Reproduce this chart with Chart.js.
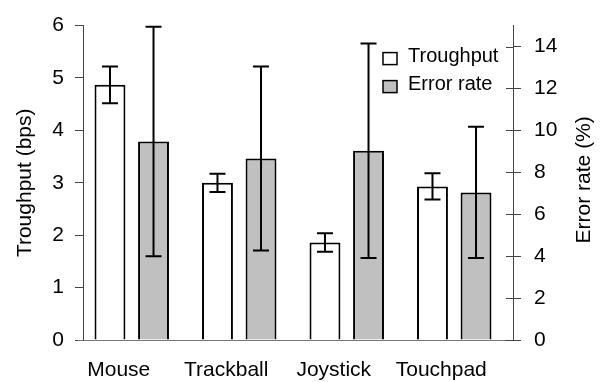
<!DOCTYPE html>
<html>
<head>
<meta charset="utf-8">
<script src="https://cdn.jsdelivr.net/npm/chart.js@4.4.1/dist/chart.umd.min.js"></script>
<style>
    html, body { margin: 0; padding: 0; background: #fff; }
    #wrap { width: 603px; height: 382px; }
</style>
</head>
<body>
<div id="wrap"><canvas id="chart" width="603" height="382"></canvas></div>
<script>
// Data
const categories = ['Mouse', 'Trackball', 'Joystick', 'Touchpad'];
const throughput = [4.87, 3.0, 1.86, 2.93];
const throughputErr = [0.35, 0.175, 0.175, 0.25];
const errorRate = [9.47, 8.66, 9.03, 7.04];
const errorRateErr = [5.47, 4.39, 5.12, 3.13];
const leftMax = 6;
const rightMax = 15;

const FONT = "'Liberation Sans', Arial, Helvetica, sans-serif";
const AXIS_COLOR = '#444';

// error bars drawn on top of the bars
const errorBars = {
    id: 'errorBars',
    afterDatasetsDraw(chart) {
        const ctx = chart.ctx;
        ctx.save();
        ctx.strokeStyle = '#000';
        ctx.lineWidth = 2;
        chart.data.datasets.forEach((ds, i) => {
            const meta = chart.getDatasetMeta(i);
            const yScale = chart.scales[ds.yAxisID];
            meta.data.forEach((bar, j) => {
                const v = ds.data[j];
                const e = ds.errors[j];
                const top = yScale.getPixelForValue(v + e);
                const bot = yScale.getPixelForValue(v - e);
                const half = 8;
                ctx.beginPath();
                ctx.moveTo(bar.x, top);
                ctx.lineTo(bar.x, bot);
                ctx.moveTo(bar.x - half, top);
                ctx.lineTo(bar.x + half, top);
                ctx.moveTo(bar.x - half, bot);
                ctx.lineTo(bar.x + half, bot);
                ctx.stroke();
            });
        });
        ctx.restore();
    }
};

// the bar groups sit a little left of the axis box in the original
const shiftCategories = {
    id: 'shiftCategories',
    afterLayout(chart) {
        const x = chart.scales.x;
        x.left -= 5;
        x.right -= 5;
        x.configure();
    }
};

// right axis: ticks cross the axis line, title reads bottom-up, legend inside plot
const extras = {
    id: 'extras',
    afterDraw(chart) {
        const ctx = chart.ctx;
        const r = chart.scales.y1;
        const area = chart.chartArea;
        ctx.save();

        ctx.strokeStyle = AXIS_COLOR;
        ctx.lineWidth = 1;
        r.ticks.forEach(t => {
            const y = Math.round(r.getPixelForValue(t.value)) + 0.5;
            ctx.beginPath();
            ctx.moveTo(r.left - 7, y);
            ctx.lineTo(r.left, y);
            ctx.stroke();
        });

        ctx.fillStyle = '#000';
        ctx.font = '21px ' + FONT;
        ctx.textAlign = 'center';
        ctx.textBaseline = 'middle';
        ctx.translate(r.right - 19, (area.top + area.bottom) / 2 - 3);
        ctx.rotate(-Math.PI / 2);
        ctx.fillText('Error rate (%)', 0, 0);
        ctx.setTransform(1, 0, 0, 1, 0, 0);

        // legend
        ctx.font = '20px ' + FONT;
        ctx.textAlign = 'left';
        ctx.textBaseline = 'alphabetic';
        const bx = r.left - 130;
        chart.data.datasets.forEach((ds, i) => {
            const by = area.top + 27 + i * 28;
            ctx.fillStyle = ds.backgroundColor;
            ctx.fillRect(bx, by, 14, 12);
            ctx.strokeStyle = '#000';
            ctx.lineWidth = 1.5;
            ctx.strokeRect(bx, by, 14, 12);
            ctx.fillStyle = '#000';
            ctx.fillText(ds.label, bx + 25, by + 9);
        });
        ctx.restore();
    }
};

new Chart(document.getElementById('chart').getContext('2d'), {
    type: 'bar',
    data: {
        labels: categories,
        datasets: [
            {
                label: 'Troughput',
                data: throughput,
                errors: throughputErr,
                yAxisID: 'y',
                backgroundColor: '#ffffff',
                borderColor: '#000',
                borderWidth: 2,
                categoryPercentage: 0.81,
                barPercentage: 0.71
            },
            {
                label: 'Error rate',
                data: errorRate,
                errors: errorRateErr,
                yAxisID: 'y1',
                backgroundColor: '#c0c0c0',
                borderColor: '#000',
                borderWidth: 2,
                categoryPercentage: 0.81,
                barPercentage: 0.71
            }
        ]
    },
    options: {
        responsive: false,
        animation: false,
        devicePixelRatio: 1,
        layout: { padding: { top: 24, left: 0, right: 0, bottom: 0 } },
        plugins: {
            legend: { display: false },
            tooltip: { enabled: false }
        },
        scales: {
            x: {
                type: 'category',
                offset: true,
                grid: { display: false, drawTicks: false },
                border: { color: '#777', width: 1 },
                ticks: {
                    color: '#000',
                    font: { family: FONT, size: 21 },
                    padding: 18,
                    labelOffset: -13,
                    maxRotation: 0
                },
                afterFit: s => { s.height = 42; }
            },
            y: {
                position: 'left',
                min: 0,
                max: leftMax,
                ticks: {
                    stepSize: 1,
                    color: '#000',
                    font: { family: FONT, size: 21 },
                    padding: 11
                },
                grid: { drawOnChartArea: false, tickLength: 8, color: AXIS_COLOR },
                border: { color: AXIS_COLOR, width: 1 },
                title: {
                    display: true,
                    text: 'Troughput (bps)',
                    color: '#000',
                    font: { family: FONT, size: 21 },
                    padding: { top: 13, bottom: 0 }
                },
                afterFit: s => { s.width = 83; }
            },
            y1: {
                position: 'right',
                min: 0,
                max: rightMax,
                ticks: {
                    stepSize: 2,
                    includeBounds: false,
                    color: '#000',
                    font: { family: FONT, size: 21 },
                    padding: 13
                },
                grid: { drawOnChartArea: false, tickLength: 8, color: AXIS_COLOR },
                border: { color: AXIS_COLOR, width: 1 },
                afterFit: s => { s.width = 90; }
            }
        }
    },
    plugins: [shiftCategories, errorBars, extras]
});
</script>
</body>
</html>
